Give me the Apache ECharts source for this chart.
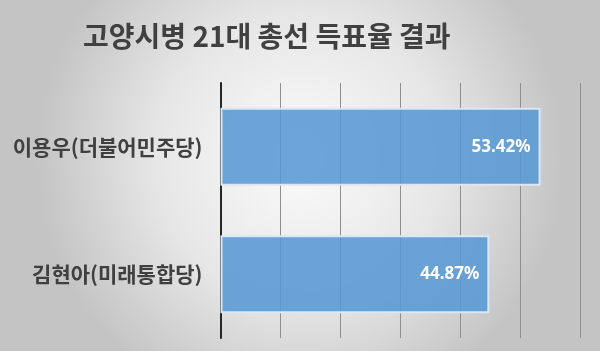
<!DOCTYPE html>
<html>
<head>
<meta charset="utf-8">
<script src="https://cdn.jsdelivr.net/npm/echarts@6/dist/echarts.min.js"></script>
<style>
html,body{margin:0;padding:0;}
#chart{width:600px;height:351px;}
</style>
</head>
<body>
<div id="chart"></div>
<script>
const titleText = '고양시병 21대 총선 득표율 결과';
const categories = ['이용우(더불어민주당)', '김현아(미래통합당)'];
const values = [53.42, 44.87];
const axisMax = 60;
const axisInterval = 10;

const chart = echarts.init(document.getElementById('chart'));
chart.setOption({
  animation: false,
  backgroundColor: {
    type: 'radial', x: 0.5, y: 0.45, r: 0.75,
    colorStops: [
      {offset: 0, color: '#fbfbfb'},
      {offset: 0.55, color: '#e6e6e6'},
      {offset: 1, color: '#c4c4c4'}
    ]
  },
  title: {
    text: titleText,
    left: 78,
    top: 17,
    textStyle: {
      fontFamily: 'Noto Sans CJK KR',
      fontWeight: 'bold',
      fontSize: 28,
      color: '#404040'
    }
  },
  grid: {left: 220.5, right: 20, top: 83, bottom: 13, containLabel: false},
  xAxis: {
    type: 'value', min: 0, max: axisMax, interval: axisInterval,
    axisLabel: {show: false},
    axisLine: {show: false},
    axisTick: {show: false},
    splitLine: {show: true, lineStyle: {color: '#8f8f8f', width: 1}}
  },
  yAxis: {
    type: 'category', data: categories, inverse: true,
    axisTick: {show: false},
    axisLine: {show: true, lineStyle: {color: '#262626', width: 2}},
    axisLabel: {
      margin: 18,
      fontFamily: 'Noto Sans CJK KR',
      fontSize: 21,
      fontWeight: 'bold',
      color: '#404040'
    }
  },
  series: [{
    type: 'bar',
    data: values,
    barWidth: '61%',
    itemStyle: {
      color: 'rgba(88,152,212,0.88)',
      borderColor: '#dbe7f3',
      borderWidth: 2
    },
    label: {
      show: true,
      position: 'insideRight',
      distance: 10,
      formatter: p => p.value.toFixed(2) + '%',
      color: '#ffffff',
      fontFamily: 'Noto Sans',
      fontWeight: 'bold',
      fontSize: 17
    }
  }]
});
</script>
</body>
</html>
